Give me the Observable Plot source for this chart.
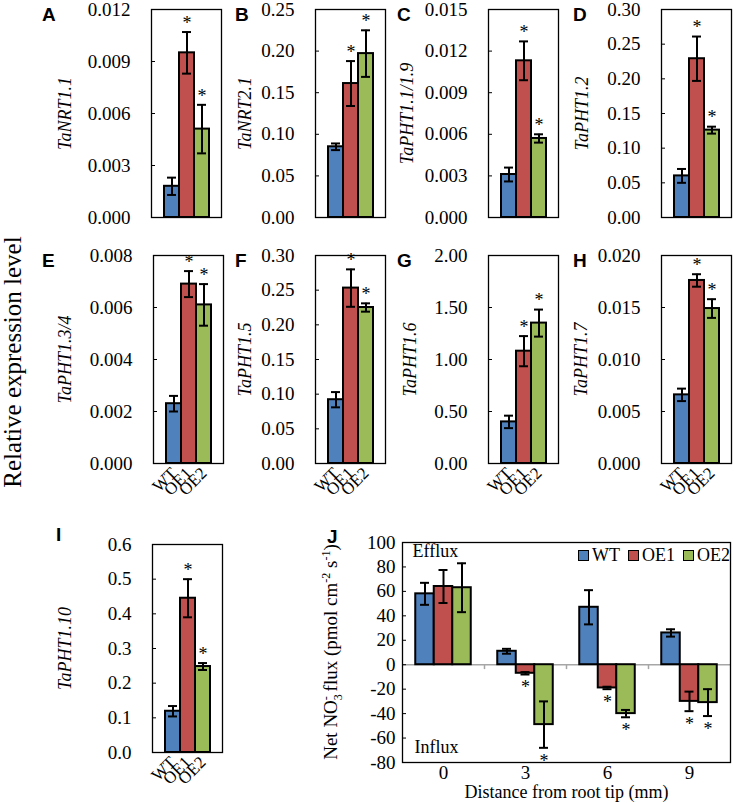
<!DOCTYPE html>
<html><head><meta charset="utf-8">
<script src="https://cdn.jsdelivr.net/npm/d3@7"></script>
<script src="https://cdn.jsdelivr.net/npm/@observablehq/plot@0.6"></script>
<style>
body{margin:0;background:#fff;}
#root{position:relative;width:734px;height:803px;overflow:hidden;font-family:"Liberation Serif","Times New Roman",serif;color:#000;}
#root svg, #root svg text, #root svg g{font-family:"Liberation Serif","Times New Roman",serif !important;}
#root .small g[aria-label="x-axis"] text, #root .small g[aria-label="x-axis tick label"] text{font-size:17px !important;}
.panel{position:absolute;}
.letter{position:absolute;font-family:"Liberation Sans",Arial,sans-serif;font-weight:bold;font-size:19px;line-height:19px;}
.rot{position:absolute;transform:translate(-50%,-50%) rotate(-90deg);white-space:nowrap;line-height:1;}
.legend{position:absolute;display:flex;align-items:center;font-size:18px;line-height:18px;}
.sw{display:inline-block;width:9px;height:9px;border:1.6px solid #000;margin-right:3px;}
.item{display:flex;align-items:center;margin-right:8px;}
</style>
</head><body><div id="root"></div>
<script>
const genotypes = ["WT", "OE1", "OE2"];
const colors = ["#4F81BD", "#C0504D", "#9BBB59"];
const significant = [false, true, true];

const geneA = "TaNRT1.1";    const meanA = [0.0018, 0.0095, 0.0051]; const errA = [0.0005, 0.0012, 0.0014]; const ticksA = [0, 0.003, 0.006, 0.009, 0.012];
const geneB = "TaNRT2.1";    const meanB = [0.085, 0.161, 0.197];    const errB = [0.004, 0.027, 0.028];    const ticksB = [0, 0.05, 0.10, 0.15, 0.20, 0.25];
const geneC = "TaPHT1.1/1.9"; const meanC = [0.0031, 0.0113, 0.0057]; const errC = [0.0005, 0.0014, 0.0003]; const ticksC = [0, 0.003, 0.006, 0.009, 0.012, 0.015];
const geneD = "TaPHT1.2";    const meanD = [0.060, 0.229, 0.126];    const errD = [0.010, 0.032, 0.005];    const ticksD = [0, 0.05, 0.10, 0.15, 0.20, 0.25, 0.30];
const geneE = "TaPHT1.3/4";  const meanE = [0.0023, 0.0069, 0.0061]; const errE = [0.0003, 0.0005, 0.0008]; const ticksE = [0, 0.002, 0.004, 0.006, 0.008];
const geneF = "TaPHT1.5";    const meanF = [0.092, 0.253, 0.225];    const errF = [0.011, 0.027, 0.006];    const ticksF = [0, 0.05, 0.10, 0.15, 0.20, 0.25, 0.30];
const geneG = "TaPHT1.6";    const meanG = [0.40, 1.08, 1.35];       const errG = [0.06, 0.145, 0.13];      const ticksG = [0, 0.5, 1.0, 1.5, 2.0];
const geneH = "TaPHT1.7";    const meanH = [0.0066, 0.0176, 0.0149]; const errH = [0.0006, 0.0006, 0.0009]; const ticksH = [0, 0.005, 0.010, 0.015, 0.020];
const geneI = "TaPHT1.10";   const meanI = [0.119, 0.445, 0.248];    const errI = [0.015, 0.055, 0.010];    const ticksI = [0, 0.1, 0.2, 0.3, 0.4, 0.5, 0.6];

const distances = ["0", "3", "6", "9"];
const fluxWT = [58, 11, 47, 26];     const fluxWTErr = [9, 2, 14, 3];     const fluxWTSig = [false, false, false, false];
const fluxOE1 = [64, -7, -19, -30];  const fluxOE1Err = [13.5, 1, 1, 8];  const fluxOE1Sig = [false, true, true, true];
const fluxOE2 = [63, -49, -40, -31]; const fluxOE2Err = [20, 19, 3, 11];  const fluxOE2Sig = [false, true, true, true];
const fluxTicks = [-80, -60, -40, -20, 0, 20, 40, 60, 80, 100];

const root = document.getElementById("root");
const baseStyle = {fontFamily: "'Liberation Serif', 'Times New Roman', serif", fontSize: "19px", background: "transparent", overflow: "visible", color: "black"};

function place(el, left, top, cls) {
  el.classList.add("panel");
  if (cls) el.classList.add(cls);
  el.style.left = left + "px";
  el.style.top = top + "px";
  root.appendChild(el);
}

function smallPanel({gene, mean, err, ticks, fmt, fx, fy, labelDx, showX}) {
  const FW = 70, FH = 208, ML = 120, MR = 3, MT = 12, MB = showX ? 50 : 4;
  const data = genotypes.map((g, i) => ({g, v: mean[i], e: err[i], sig: significant[i]}));
  const p = Plot.plot({
    width: ML + FW + MR, height: MT + FH + MB,
    marginLeft: ML, marginRight: MR, marginTop: MT, marginBottom: MB,
    style: baseStyle,
    x: {domain: genotypes, paddingInner: 0, paddingOuter: 0.75, axis: showX ? "bottom" : null, tickRotate: -45, tickSize: 0, tickPadding: 7, label: null},
    y: {domain: [0, ticks[ticks.length - 1]], ticks, tickFormat: d3.format(fmt), tickSize: 0, tickPadding: 21, label: null},
    color: {domain: genotypes, range: colors},
    marks: [
      Plot.barY(data, {x: "g", y: "v", fill: "g", stroke: "black", strokeWidth: 2}),
      Plot.ruleX(data, {x: "g", y1: d => d.v - d.e, y2: d => d.v + d.e, stroke: "black", strokeWidth: 2}),
      Plot.tickY(data, {x: "g", y: d => d.v - d.e, stroke: "black", strokeWidth: 2, insetLeft: 3, insetRight: 3}),
      Plot.tickY(data, {x: "g", y: d => d.v + d.e, stroke: "black", strokeWidth: 2, insetLeft: 3, insetRight: 3}),
      Plot.ruleY(ticks, {stroke: "black", strokeWidth: 1, insetRight: FW - 4}),
      Plot.frame({stroke: "black", strokeWidth: 1.3}),
      Plot.text(data, {filter: d => d.sig, x: "g", y: d => d.v + d.e, text: () => "*", dy: -9, fontSize: 18}),
      Plot.text([gene], {frameAnchor: "left", dx: -labelDx, rotate: -90, textAnchor: "middle", fontStyle: "italic", fontSize: 18})
    ]
  });
  place(p, fx - ML, fy - MT, "small");
}

smallPanel({gene: geneA, mean: meanA, err: errA, ticks: ticksA, fmt: ".3f", fx: 151, fy: 9, labelDx: 86, showX: false});
smallPanel({gene: geneB, mean: meanB, err: errB, ticks: ticksB, fmt: ".2f", fx: 315, fy: 9, labelDx: 70, showX: false});
smallPanel({gene: geneC, mean: meanC, err: errC, ticks: ticksC, fmt: ".3f", fx: 488, fy: 9, labelDx: 81, showX: false});
smallPanel({gene: geneD, mean: meanD, err: errD, ticks: ticksD, fmt: ".2f", fx: 661, fy: 9, labelDx: 79, showX: false});
smallPanel({gene: geneE, mean: meanE, err: errE, ticks: ticksE, fmt: ".3f", fx: 153, fy: 255, labelDx: 88, showX: true});
smallPanel({gene: geneF, mean: meanF, err: errF, ticks: ticksF, fmt: ".2f", fx: 315, fy: 255, labelDx: 70, showX: true});
smallPanel({gene: geneG, mean: meanG, err: errG, ticks: ticksG, fmt: ".2f", fx: 488, fy: 255, labelDx: 78, showX: true});
smallPanel({gene: geneH, mean: meanH, err: errH, ticks: ticksH, fmt: ".3f", fx: 661, fy: 255, labelDx: 80, showX: true});
smallPanel({gene: geneI, mean: meanI, err: errI, ticks: ticksI, fmt: ".1f", fx: 152, fy: 544, labelDx: 87, showX: true});

// Panel J
(function () {
  const FW = 328, FH = 220, ML = 60, MR = 4, MT = 8, MB = 45;
  const band = FW / distances.length, BW = 18.5, inset = (band - BW) / 2, capInset = (band - 9) / 2;
  const series = [
    {g: "WT", v: fluxWT, e: fluxWTErr, s: fluxWTSig},
    {g: "OE1", v: fluxOE1, e: fluxOE1Err, s: fluxOE1Sig},
    {g: "OE2", v: fluxOE2, e: fluxOE2Err, s: fluxOE2Sig}
  ];
  const marks = [
    Plot.ruleY([0], {stroke: "#a6a6a6", strokeWidth: 1.5}),
    Plot.ruleX(distances.slice(1), {x: d => d, y1: 0, y2: -4, dx: -band / 2, stroke: "#a6a6a6", strokeWidth: 1.5})
  ];
  series.forEach((s, i) => {
    const rows = distances.map((d, j) => ({d, g: s.g, v: s.v[j], e: s.e[j], sig: s.s[j]}));
    const dx = (i - 1) * BW;
    marks.push(
      Plot.barY(rows, {x: "d", y: "v", fill: "g", stroke: "black", strokeWidth: 2, insetLeft: inset, insetRight: inset, dx}),
      Plot.ruleX(rows, {x: "d", y1: r => r.v - r.e, y2: r => r.v + r.e, stroke: "black", strokeWidth: 2, dx}),
      Plot.tickY(rows, {x: "d", y: r => r.v - r.e, stroke: "black", strokeWidth: 2, insetLeft: capInset, insetRight: capInset, dx}),
      Plot.tickY(rows, {x: "d", y: r => r.v + r.e, stroke: "black", strokeWidth: 2, insetLeft: capInset, insetRight: capInset, dx}),
      Plot.text(rows, {filter: r => r.sig, x: "d", y: r => r.v - r.e, text: () => "*", dx, dy: 13, fontSize: 18})
    );
  });
  marks.push(
    Plot.ruleY(fluxTicks, {stroke: "black", strokeWidth: 1, insetRight: FW - 4}),
    Plot.frame({stroke: "black", strokeWidth: 1.3}),
    Plot.text(["Efflux"], {frameAnchor: "top-left", lineAnchor: "middle", dx: 10, dy: 9, fontSize: 18}),
    Plot.text(["Influx"], {frameAnchor: "bottom-left", lineAnchor: "middle", dx: 12, dy: -15, fontSize: 18}),
    Plot.text(["Distance from root tip (mm)"], {frameAnchor: "bottom", lineAnchor: "middle", dy: 30, fontSize: 18})
  );
  const p = Plot.plot({
    width: ML + FW + MR, height: MT + FH + MB,
    marginLeft: ML, marginRight: MR, marginTop: MT, marginBottom: MB,
    style: baseStyle,
    x: {domain: distances, paddingInner: 0, paddingOuter: 0, tickSize: 0, tickPadding: 3, label: null},
    y: {domain: [-80, 100], ticks: fluxTicks, tickFormat: d => String(d), tickSize: 0, tickPadding: 7, label: null},
    color: {domain: genotypes, range: colors},
    marks
  });
  place(p, 402 - ML, 542 - MT, "big");
})();

// Letters
const letters = [["A", 42, 4.5], ["B", 235, 4.5], ["C", 397, 4.5], ["D", 573, 4.5],
                 ["E", 42, 251], ["F", 235, 251], ["G", 397, 251], ["H", 573, 251],
                 ["I", 56, 524.5], ["J", 327, 527]];
letters.forEach(([t, x, y]) => {
  const d = document.createElement("div");
  d.className = "letter"; d.textContent = t;
  d.style.left = x + "px"; d.style.top = y + "px";
  root.appendChild(d);
});

// Shared y title
const yt = document.createElement("div");
yt.className = "rot"; yt.style.fontSize = "25px";
yt.style.left = "12px"; yt.style.top = "362px";
yt.textContent = "Relative expression level";
root.appendChild(yt);

// J y title
const jt = document.createElement("div");
jt.className = "rot"; jt.style.fontSize = "19px";
jt.style.left = "332px"; jt.style.top = "652px";
jt.innerHTML = "Net NO<sub style='font-size:12px'>3</sub><sup style='font-size:12px;margin-left:-6px'>-</sup> flux (pmol cm<sup style='font-size:12px'>-2</sup> s<sup style='font-size:12px'>-1</sup>)";
root.appendChild(jt);

// J legend
const lg = document.createElement("div");
lg.className = "legend"; lg.style.left = "578px"; lg.style.top = "546px";
lg.innerHTML = genotypes.map((g, i) => `<span class="item"><span class="sw" style="background:${colors[i]}"></span>${g}</span>`).join("");
root.appendChild(lg);
</script>
</body></html>
